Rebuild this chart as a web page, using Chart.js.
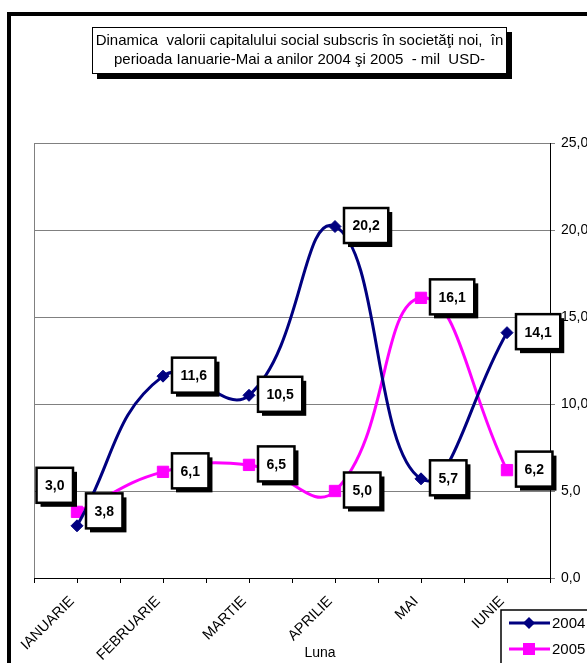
<!DOCTYPE html>
<html lang="ro">
<head>
    <meta charset="UTF-8">
    <title>Dinamica capitalului social subscris</title>
    <script src="https://cdn.jsdelivr.net/npm/chart.js"></script>
    <style>
        body {
            margin: 0;
            width: 587px;
            height: 663px;
            overflow: hidden;
            background-color: #fff;
            font-family: Arial, "Liberation Sans", sans-serif;
            position: relative;
        }

        .frame {
            position: absolute;
            left: 7px;
            top: 12px;
            width: 700px;
            height: 800px;
            border: 4px solid #000;
        }

        .chart-title {
            position: absolute;
            left: 92px;
            top: 27px;
            width: 413px;
            height: 43px;
            border: 1px solid #000;
            background: #fff;
            box-shadow: 5px 5px 0 #000;
            font-size: 15px;
            line-height: 19px;
            text-align: center;
            white-space: pre;
            padding-top: 2px;
            z-index: 2;
        }

        #chart {
            position: absolute;
            left: 0;
            top: 0;
        }
    </style>
</head>
<body>
    <div class="frame"></div>
    <canvas id="chart" width="587" height="663"></canvas>
    <div class="chart-title">Dinamica  valorii capitalului social subscris în societăţi noi,  în
perioada Ianuarie-Mai a anilor 2004 şi 2005  - mil  USD-</div>

    <script>
        // Data
        const months = ['IANUARIE', 'FEBRUARIE', 'MARTIE', 'APRILIE', 'MAI', 'IUNIE'];
        const values2004 = [3.0, 11.6, 10.5, 20.2, 5.7, 14.1];
        const values2005 = [3.8, 6.1, 6.5, 5.0, 16.1, 6.2];
        const yTicks = [0, 5, 10, 15, 20, 25];

        const fmt = v => v.toFixed(1).replace('.', ',');

        // Boxed value labels with a black shadow, placed right of each point
        const boxLabels = {
            id: 'boxLabels',
            afterDatasetsDraw(chart) {
                const ctx = chart.ctx;
                ctx.save();
                ctx.font = 'bold 14px Arial';
                ctx.textAlign = 'center';
                ctx.textBaseline = 'middle';
                chart.data.datasets.forEach((ds, di) => {
                    chart.getDatasetMeta(di).data.forEach((pt, i) => {
                        const txt = fmt(ds.data[i]);
                        const w = ctx.measureText(txt).width + 17;
                        const h = 35;
                        let bx = pt.x + 9;
                        let by = pt.y - 1 - h / 2;
                        if (di === 0 && i === 0) {
                            // first 2004 label sits up-left of its point
                            bx = pt.x - 4 - w;
                            by = pt.y - 23 - h;
                        }
                        ctx.fillStyle = '#000';
                        ctx.fillRect(bx + 4, by + 4, w, h);
                        ctx.fillStyle = '#fff';
                        ctx.fillRect(bx, by, w, h);
                        ctx.lineWidth = 2.5;
                        ctx.strokeStyle = '#000';
                        ctx.strokeRect(bx, by, w, h);
                        ctx.fillStyle = '#000';
                        ctx.fillText(txt, bx + w / 2, by + h / 2 + 1);
                    });
                });
                ctx.restore();
            }
        };

        // Plot frame, centre tick marks, axis title and legend box
        const decorations = {
            id: 'decorations',
            beforeDatasetsDraw(chart) {
                const {ctx, chartArea} = chart;
                ctx.save();
                ctx.strokeStyle = '#808080';
                ctx.lineWidth = 1;
                ctx.beginPath();
                ctx.moveTo(chartArea.left + 0.5, chartArea.top);
                ctx.lineTo(chartArea.left + 0.5, chartArea.bottom);
                ctx.stroke();
                // tick marks under each month too
                const xs = chart.scales.x;
                ctx.strokeStyle = '#000';
                months.forEach((m, i) => {
                    const px = Math.round(xs.getPixelForValue(i)) + 0.5;
                    ctx.beginPath();
                    ctx.moveTo(px, chartArea.bottom);
                    ctx.lineTo(px, chartArea.bottom + 5);
                    ctx.stroke();
                });
                ctx.restore();
            },
            afterDraw(chart) {
                const {ctx, chartArea} = chart;
                ctx.save();
                ctx.fillStyle = '#000';
                ctx.font = '14px Arial';
                ctx.textAlign = 'center';
                ctx.textBaseline = 'middle';
                ctx.fillText('Luna', (chartArea.left + chartArea.right) / 2 + 28, 653);

                // legend
                const lx = 501, ly = 610;
                ctx.fillStyle = '#fff';
                ctx.fillRect(lx, ly, 120, 70);
                ctx.lineWidth = 1.5;
                ctx.strokeStyle = '#000';
                ctx.strokeRect(lx, ly, 120, 70);
                chart.data.datasets.forEach((ds, di) => {
                    const y = ly + 13 + di * 26;
                    ctx.strokeStyle = ds.borderColor;
                    ctx.lineWidth = 3;
                    ctx.beginPath();
                    ctx.moveTo(lx + 8, y);
                    ctx.lineTo(lx + 49, y);
                    ctx.stroke();
                    ctx.fillStyle = ds.borderColor;
                    if (ds.pointStyle === 'rectRot') {
                        ctx.beginPath();
                        ctx.moveTo(lx + 28, y - 6);
                        ctx.lineTo(lx + 34, y);
                        ctx.lineTo(lx + 28, y + 6);
                        ctx.lineTo(lx + 22, y);
                        ctx.closePath();
                        ctx.fill();
                    } else {
                        ctx.fillRect(lx + 22, y - 6, 12, 12);
                    }
                    ctx.fillStyle = '#000';
                    ctx.font = '15px Arial';
                    ctx.textAlign = 'left';
                    ctx.fillText(ds.label, lx + 51, y + 1);
                });
                ctx.restore();
            }
        };

        new Chart(document.getElementById('chart'), {
            type: 'line',
            data: {
                labels: months,
                datasets: [
                    {
                        label: '2004',
                        data: values2004,
                        borderColor: '#000080',
                        backgroundColor: '#000080',
                        borderWidth: 3,
                        tension: 0.45,
                        pointStyle: 'rectRot',
                        pointRadius: 6,
                        pointBorderWidth: 1
                    },
                    {
                        label: '2005',
                        data: values2005,
                        borderColor: '#FF00FF',
                        backgroundColor: '#FF00FF',
                        borderWidth: 3,
                        tension: 0.45,
                        pointStyle: 'rect',
                        pointRadius: 8,
                        pointBorderWidth: 1
                    }
                ]
            },
            options: {
                responsive: false,
                animation: false,
                events: [],
                layout: { padding: { left: 34, top: 143, right: 0, bottom: 0 } },
                plugins: {
                    legend: { display: false },
                    tooltip: { enabled: false }
                },
                scales: {
                    x: {
                        offset: true,
                        grid: {
                            offset: true,
                            drawOnChartArea: false,
                            color: '#000',
                            tickLength: 5
                        },
                        border: { color: '#000', width: 1 },
                        ticks: {
                            color: '#000',
                            font: { family: 'Arial', size: 14.5 },
                            minRotation: 45,
                            maxRotation: 45,
                            autoSkip: false,
                            padding: 10,
                            labelOffset: -5
                        },
                        afterFit: s => { s.height = 85; }
                    },
                    y: {
                        position: 'right',
                        min: yTicks[0],
                        max: yTicks[yTicks.length - 1],
                        afterBuildTicks: s => { s.ticks = yTicks.map(v => ({ value: v })); },
                        grid: { color: '#808080', tickLength: 5 },
                        border: { color: '#000', width: 1 },
                        ticks: {
                            color: '#000',
                            font: { family: 'Arial', size: 14 },
                            padding: 6,
                            callback: v => fmt(v)
                        },
                        afterFit: s => { s.width = 37; }
                    }
                }
            },
            plugins: [decorations, boxLabels]
        });
    </script>
</body>
</html>
